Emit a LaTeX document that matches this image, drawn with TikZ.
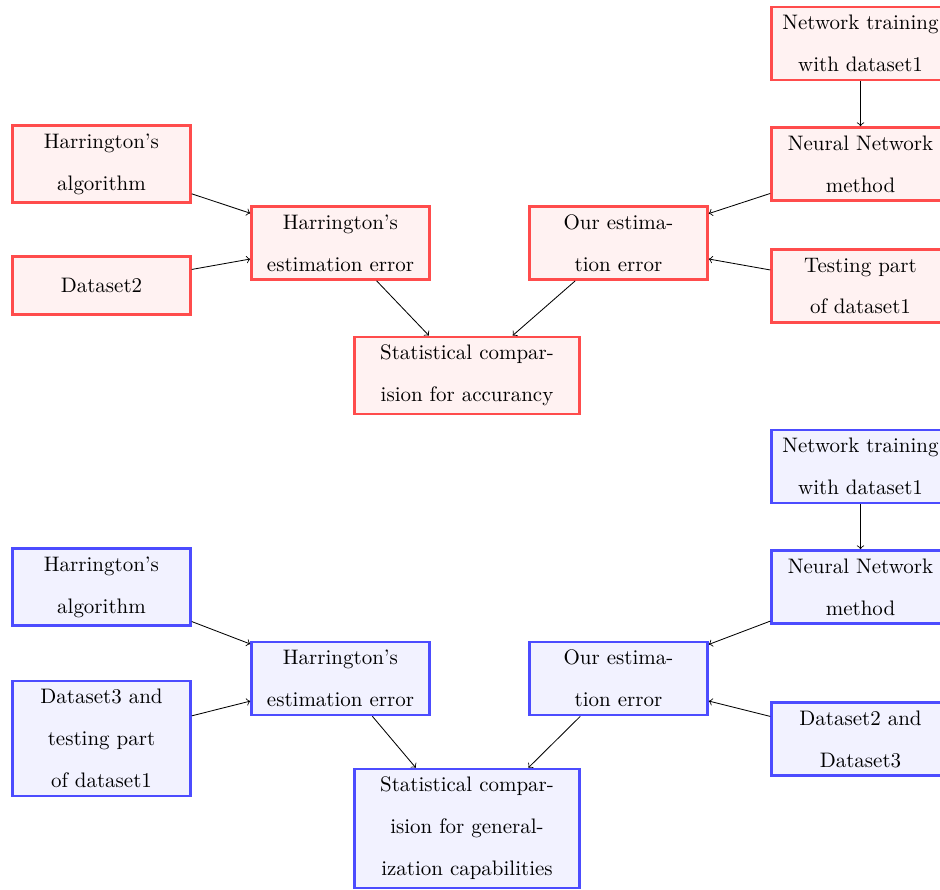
\documentclass[tikz,border=0pt]{standalone}
\begin{document}
\begin{tikzpicture}[x=0.4769pt,y=-0.4769pt,
  box/.style={draw, line width=1.3pt, minimum width=84.8pt, minimum height=28pt,
    inner xsep=3.33pt, inner ysep=3.85pt, align=center, font=\fontsize{10}{20}\selectfont},
  redbox/.style={box, draw=red!70, fill=red!5},
  bluebox/.style={box, draw=blue!70, fill=blue!5},
  wide/.style={minimum width=107.6pt},
  link/.style={->, line width=0.4pt}]
\useasboundingbox (0,0) rectangle (940,890);
\clip (0,0) rectangle (940,890);

% accuracy study
\node[redbox] (ha)  at (101.5,164)   {Harrington's\\algorithm};
\node[redbox] (d2)  at (101.5,285.5) {Dataset2};
\node[redbox] (he)  at (340.5,243)   {Harrington's\\estimation error};
\node[redbox] (oe)  at (618.5,243)   {Our estima-\\tion error};
\node[redbox] (nt)  at (860.5,43.5)  {Network training\\with dataset1};
\node[redbox] (nn)  at (860.5,164)   {Neural Network\\method};
\node[redbox] (tp)  at (860.5,286)   {Testing part\\of dataset1};
\node[redbox,wide] (sc) at (467,375.5) {Statistical compar-\\ision for accurancy};

\draw[link] (ha) -- (he);
\draw[link] (d2) -- (he);
\draw[link] (nt) -- (nn);
\draw[link] (nn) -- (oe);
\draw[link] (tp) -- (oe);
\draw[link] (he) -- (sc);
\draw[link] (oe) -- (sc);

% generalization study
\node[bluebox] (hab) at (101.5,587)   {Harrington's\\algorithm};
\node[bluebox] (d3)  at (101.5,738.5) {Dataset3 and\\testing part\\of dataset1};
\node[bluebox] (heb) at (340.5,678.5) {Harrington's\\estimation error};
\node[bluebox] (oeb) at (618.5,678.5) {Our estima-\\tion error};
\node[bluebox] (ntb) at (860.5,466.5) {Network training\\with dataset1};
\node[bluebox] (nnb) at (860.5,587)   {Neural Network\\method};
\node[bluebox] (dd)  at (860.5,739)   {Dataset2 and\\Dataset3};
\node[bluebox,wide] (scb) at (467,828.5) {Statistical compar-\\ision for general-\\ization capabilities};

\draw[link] (hab) -- (heb);
\draw[link] (d3) -- (heb);
\draw[link] (ntb) -- (nnb);
\draw[link] (nnb) -- (oeb);
\draw[link] (dd) -- (oeb);
\draw[link] (heb) -- (scb);
\draw[link] (oeb) -- (scb);
\end{tikzpicture}
\end{document}
